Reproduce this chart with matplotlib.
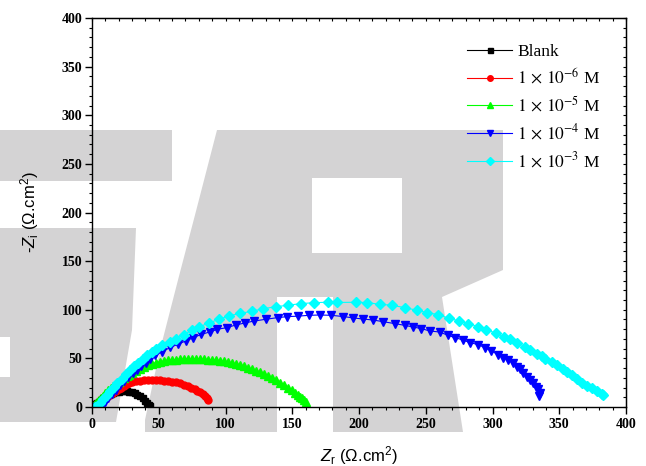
import matplotlib
matplotlib.use("Agg")
import matplotlib.pyplot as plt
from matplotlib.patches import Polygon, Rectangle
from matplotlib.transforms import Affine2D
from matplotlib.font_manager import FontProperties
from matplotlib.ticker import MultipleLocator

plt.rcParams['mathtext.fontset'] = 'custom'
plt.rcParams['mathtext.rm'] = 'Liberation Sans'
plt.rcParams['mathtext.it'] = 'Liberation Sans:italic'

# Nyquist data (Zr, -Zi)
blank_pts = [(0.5, 0.5), (1.5, 1.5), (2.5, 2.8), (3.5, 4.0), (5.0, 5.6), (6.5, 7.4), (8.0, 9.0),
             (9.5, 10.3), (11.0, 11.6), (12.5, 12.7), (14.0, 13.7), (16.0, 14.6), (18.0, 15.3),
             (20.0, 15.8), (22.0, 16.1), (24.0, 16.2), (26.0, 16.0), (28.0, 15.6), (30.0, 15.0),
             (32.0, 14.0), (34.0, 12.7), (36.0, 11.0), (38.0, 9.0), (40.0, 6.5), (41.5, 4.3),
             (42.5, 2.5), (43.5, 0.8)]

red_pts = [(0.5, 0.5), (2.0, 1.8), (3.5, 3.2), (5.0, 4.6), (6.5, 6.0), (8.0, 7.4), (10.0, 9.3),
           (12.0, 11.2), (14.0, 13.0), (16.0, 14.8), (18.0, 16.6), (20.0, 18.4), (22.0, 20.0),
           (24.0, 21.8), (26.0, 23.2), (28.0, 24.6), (30.0, 25.6), (33.0, 26.6), (36.0, 27.2),
           (39.0, 27.6), (42.0, 27.8), (45.0, 27.8), (48.0, 27.7), (51.0, 27.5), (54.0, 27.1),
           (57.0, 26.6), (60.0, 26.0), (63.0, 25.2), (66.0, 24.2), (69.0, 23.0), (72.0, 21.5),
           (74.5, 20.0), (77.0, 18.4), (79.0, 16.8), (81.0, 15.0), (83.0, 13.0), (84.5, 11.2),
           (86.0, 9.0), (87.0, 6.8)]

green_pts = [(0.5, 0.7), (2.0, 2.8), (3.5, 5.0), (5.0, 7.2), (6.5, 9.4), (8.0, 11.6), (10.0, 14.3),
             (12.0, 17.0), (14.0, 19.6), (16.0, 21.8), (18.0, 24.0), (20.0, 26.0), (22.0, 28.0),
             (24.0, 29.9), (26.0, 31.7), (28.0, 33.4), (30.0, 35.0), (33.0, 37.3), (36.0, 39.5),
             (39.0, 41.3), (42.0, 42.9), (45.0, 44.3), (48.0, 45.5), (51.0, 46.5), (54.0, 47.3),
             (57.0, 47.9), (60.0, 48.4), (63.0, 48.8), (66.0, 49.1), (69.0, 49.3), (72.0, 49.4),
             (75.0, 49.4), (78.0, 49.3), (81.0, 49.2), (84.0, 49.0), (87.0, 48.8), (90.0, 48.5),
             (93.0, 48.1), (96.0, 47.6), (99.0, 47.0), (102.0, 46.2), (105.0, 45.2), (108.0, 44.2),
             (111.0, 43.0), (114.0, 41.8), (117.0, 40.4), (120.0, 39.0), (123.0, 37.4), (126.0, 35.7),
             (129.0, 33.9), (132.0, 32.0), (135.0, 30.0), (138.0, 27.6), (141.0, 25.0), (144.0, 22.3),
             (147.0, 19.6), (149.5, 17.3), (152.0, 14.8), (154.0, 12.8), (156.0, 10.6), (157.5, 8.9),
             (159.0, 7.2), (160.5, 5.5)]

blue_pts = [(3.0, 0.3), (5.0, 0.8), (7.3, 2.0), (9.8, 5.1), (12.3, 9.3), (14.8, 13.4), (18.0, 17.9),
            (21.0, 22.3), (24.0, 26.4), (27.3, 30.5), (30.6, 34.7), (33.6, 38.5), (36.8, 41.9),
            (40.3, 45.3), (43.5, 49.0), (47.5, 53.0), (52.6, 56.9), (58.8, 61.4), (64.3, 64.4),
            (70.1, 67.9), (75.9, 71.3), (81.9, 74.7), (88.1, 77.1), (93.9, 79.9), (100.9, 81.6),
            (107.7, 84.3), (114.4, 86.4), (121.4, 88.4), (130.2, 90.2), (139.0, 91.9), (146.0, 92.9),
            (154.0, 93.4), (162.8, 94.3), (170.8, 94.6), (179.1, 94.3), (188.3, 93.0), (195.8, 91.6),
            (203.3, 90.4), (210.3, 89.5), (217.8, 87.8), (226.6, 85.8), (234.1, 84.0), (240.4, 82.3),
            (246.7, 80.6), (252.9, 78.2), (260.4, 77.1), (266.7, 73.7), (271.7, 71.4), (278.0, 68.9),
            (283.0, 66.2), (289.2, 64.2), (294.2, 61.1), (299.2, 57.6), (304.2, 53.9), (308.0, 50.8),
            (311.7, 48.3), (315.5, 44.9), (318.0, 41.5), (320.5, 38.8), (323.0, 35.4), (325.5, 31.3),
            (328.0, 27.8), (330.5, 24.4), (332.5, 21.0), (334.3, 18.2), (335.5, 14.8), (335.0, 11.3)]

cyan_pts = [(2.0, 0.2), (3.5, 0.4), (6.0, 3.8), (8.5, 7.9), (11.0, 12.0), (13.5, 16.5), (16.5, 21.0),
            (19.1, 25.1), (22.3, 29.2), (25.5, 33.6), (28.5, 38.1), (31.8, 42.2), (34.8, 45.7),
            (38.1, 49.8), (41.1, 53.2), (44.8, 56.6), (48.0, 59.8), (52.6, 63.4), (58.1, 67.2),
            (62.6, 70.3), (68.9, 74.4), (74.6, 78.8), (80.1, 82.3), (87.6, 86.4), (95.1, 90.2),
            (102.7, 93.6), (110.7, 96.3), (119.7, 98.4), (128.4, 101.1), (138.2, 103.2), (146.5, 104.6),
            (156.5, 106.3), (166.5, 107.3), (176.5, 107.7), (183.3, 107.5), (197.8, 107.7), (205.8, 107.4),
            (215.4, 105.6), (224.9, 104.6), (234.1, 102.2), (243.4, 99.5), (250.9, 97.1), (259.1, 95.0),
            (267.4, 91.2), (274.9, 88.5), (282.0, 85.8), (289.2, 82.7), (295.5, 79.2), (302.5, 76.1),
            (308.5, 72.0), (313.0, 69.6), (318.6, 66.2), (324.3, 62.1), (328.0, 58.3), (333.0, 54.9),
            (336.8, 52.5), (339.3, 49.8), (344.3, 46.3), (348.1, 43.6), (352.6, 39.5), (356.0, 36.0),
            (359.4, 32.6), (363.1, 28.5), (366.9, 25.1), (371.1, 21.6), (374.4, 19.2), (378.1, 16.5),
            (381.9, 13.1), (383.1, 12.0)]

labels = ['Blank', r'$1\,\times\,10^{-6}$ M', r'$1\,\times\,10^{-5}$ M',
          r'$1\,\times\,10^{-4}$ M', r'$1\,\times\,10^{-3}$ M']
series = [blank_pts, red_pts, green_pts, blue_pts, cyan_pts]
colors = ['#000000', '#ff0000', '#00ff00', '#0000ff', '#00ffff']
markers = ['s', 'o', '^', 'v', 'D']
msizes = [4.5, 5, 5.5, 6, 5]

W, H = 646, 466
fig = plt.figure(figsize=(W / 100, H / 100), dpi=100)

# grey watermark behind the plot (pixel coords, y down)
px = Affine2D().scale(1 / W, -1 / H).translate(0, 1) + fig.transFigure
wm = '#d4d3d4'
shapes = [
    [(0, 130), (172, 130), (172, 181), (0, 181)],
    [(0, 228), (136, 228), (132, 330), (116, 422), (0, 422)],
    [(217, 130), (503, 130), (503, 270), (442, 297), (463, 432), (333, 432), (333, 297),
     (277, 297), (277, 432), (145, 432), (145, 420), (160, 350), (178, 280), (195, 215)],
]
for s in shapes:
    fig.add_artist(Polygon(s, closed=True, transform=px, facecolor=wm, edgecolor='none', zorder=-3))
for (x0, y0, x1, y1) in [(312, 178, 402, 253), (0, 337, 10, 377)]:
    fig.add_artist(Rectangle((x0, y0), x1 - x0, y1 - y0, transform=px, facecolor='white',
                             edgecolor='none', zorder=-2))

ax = fig.add_axes([92 / W, 1 - 407 / H, (626 - 92) / W, (407 - 18) / H])
ax.set_facecolor('none')

for pts, c, m, ms, lab in zip(series, colors, markers, msizes, labels):
    xs = [p[0] for p in pts]
    ys = [p[1] for p in pts]
    ax.plot(xs, ys, color=c, lw=0.8, marker=m, ms=ms, mfc=c, mec=c, label=lab)

ax.set_xlim(0, 400)
ax.set_ylim(0, 400)
for a in (ax.xaxis, ax.yaxis):
    a.set_major_locator(MultipleLocator(50))
    a.set_minor_locator(MultipleLocator(10))
for sp in ax.spines.values():
    sp.set_linewidth(1.0)
ax.tick_params(which='major', direction='out', length=5, width=1.0)
ax.tick_params(which='minor', direction='out', length=2.5, width=0.8)
tick_fp = FontProperties(family='Liberation Serif', weight='bold', size=10)
for t in ax.get_xticklabels() + ax.get_yticklabels():
    t.set_fontproperties(tick_fp)
ax.tick_params(axis='x', pad=3)
ax.tick_params(axis='y', pad=2)

top = ax.secondary_xaxis('top')
top.xaxis.set_major_locator(MultipleLocator(10))
top.tick_params(direction='in', length=2, width=0.8, labeltop=False)
right = ax.secondary_yaxis('right')
right.yaxis.set_major_locator(MultipleLocator(10))
right.tick_params(direction='in', length=2, width=0.8, labelright=False)

lab_fp = FontProperties(family='Liberation Sans', size=12, math_fontfamily='custom')
ax.set_xlabel(r'$Z_\mathrm{r}$ (Ω.cm$^2$)', fontproperties=lab_fp, labelpad=9)
ax.set_ylabel(r'-$Z_\mathrm{i}$ (Ω.cm$^2$)', fontproperties=lab_fp, labelpad=15)

leg_fp = FontProperties(family='Liberation Serif', size=12.5, math_fontfamily='stix')
ax.legend(loc='upper left', bbox_to_anchor=(467 / W, 1 - 44 / H), bbox_transform=fig.transFigure,
          frameon=False, prop=leg_fp, borderpad=0, borderaxespad=0, handlelength=2.6,
          handletextpad=0.3, labelspacing=0.45, markerscale=0.8)

fig.savefig('out.png', dpi=100)
